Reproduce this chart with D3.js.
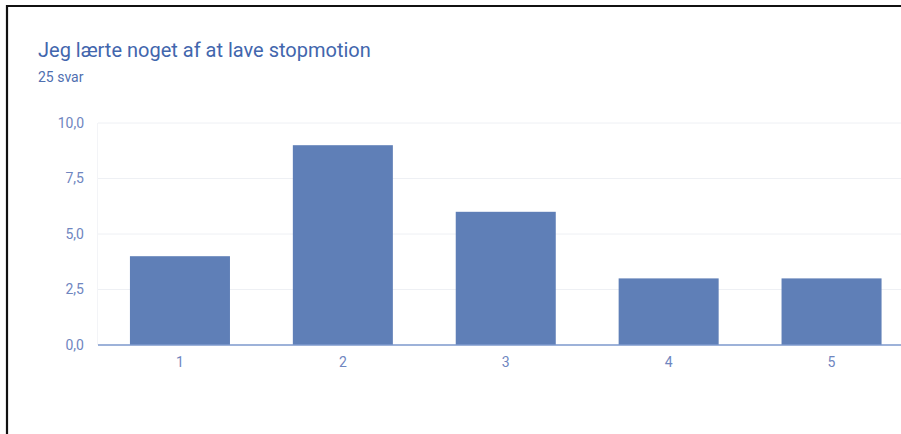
<!DOCTYPE html>
<html>
<head>
<meta charset="utf-8">
<script src="https://cdn.jsdelivr.net/npm/d3@7"></script>
<style>
  html, body { margin: 0; padding: 0; background: #fff; }
  svg { display: block; }
</style>
</head>
<body>
<script>
// Survey answers on a 1–5 scale and the number of respondents per answer
const categories = ["1", "2", "3", "4", "5"];
const counts = [4, 9, 6, 3, 3];
const yTicks = [0, 2.5, 5, 7.5, 10];
const title = "Jeg lærte noget af at lave stopmotion";
const subtitle = "25 svar";

const W = 901, H = 434;
const svg = d3.select("body").append("svg").attr("width", W).attr("height", H);

svg.append("rect").attr("width", W).attr("height", H).attr("fill", "#fff");

// frame (left and top edges)
svg.append("path")
  .attr("d", `M7,${H} L7,6 L${W},6`)
  .attr("fill", "none").attr("stroke", "#111").attr("stroke-width", 2.2);

const font = "Roboto, 'Noto Sans', sans-serif";

svg.append("text").attr("x", 38).attr("y", 57)
  .attr("font-family", font).attr("font-size", 20)
  .attr("fill", "#4266ad").text(title);
svg.append("text").attr("x", 38).attr("y", 82)
  .attr("font-family", font).attr("font-size", 14)
  .attr("fill", "#4f6fb0").text(subtitle);

const x = d3.scaleBand().domain(categories).range([98.5, 913]).paddingInner(0.386).paddingOuter(0.193);
const y = d3.scaleLinear().domain([0, 10]).range([345, 123]);

const fmt = v => d3.format(".1f")(v).replace(".", ",");

// horizontal gridlines
svg.append("g").selectAll("line").data(yTicks.filter(t => t > 0)).join("line")
  .attr("x1", 98).attr("x2", W).attr("y1", d => y(d)).attr("y2", d => y(d))
  .attr("stroke", "#eef0f4").attr("stroke-width", 1);

// faint left edge of the plot area
svg.append("line").attr("x1", 97.5).attr("x2", 97.5).attr("y1", y(10)).attr("y2", y(0))
  .attr("stroke", "#f3f4f7").attr("stroke-width", 1);

// y axis labels
const yAxis = svg.append("g").attr("transform", "translate(84,0)")
  .call(d3.axisLeft(y).tickValues(yTicks).tickFormat(fmt).tickSize(0).tickPadding(0));
yAxis.select(".domain").remove();
yAxis.selectAll("text").attr("font-family", font).attr("font-size", 14).attr("fill", "#6f86bf");

// bars
svg.append("g").selectAll("rect").data(counts).join("rect")
  .attr("x", (d, i) => x(categories[i]))
  .attr("width", x.bandwidth())
  .attr("y", d => y(d))
  .attr("height", d => y(0) - y(d))
  .attr("fill", "#5f7fb7");

// baseline
svg.append("line").attr("x1", 98).attr("x2", W).attr("y1", y(0)).attr("y2", y(0))
  .attr("stroke", "#7d98cc").attr("stroke-width", 1.5);

// x axis labels
const xAxis = svg.append("g").attr("transform", `translate(0,${y(0)})`)
  .call(d3.axisBottom(x).tickSize(0).tickPadding(12));
xAxis.select(".domain").remove();
xAxis.selectAll("text").attr("font-family", font).attr("font-size", 14).attr("fill", "#6f86bf");
</script>
</body>
</html>
